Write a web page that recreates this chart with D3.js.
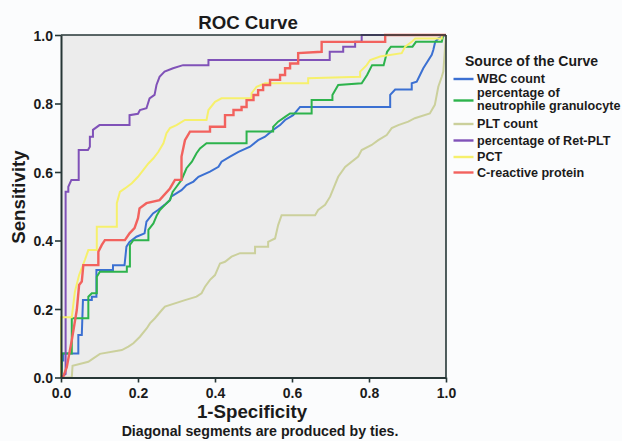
<!DOCTYPE html>
<html>
<head>
<meta charset="utf-8">
<script src="https://cdn.jsdelivr.net/npm/d3@7/dist/d3.min.js"></script>
<style>
  html, body { margin: 0; padding: 0; background: #fbfcfd; }
  svg { display: block; }
  text { font-family: Arial, "Liberation Sans", Helvetica, sans-serif; font-weight: bold; fill: #1b1b1b; }
</style>
</head>
<body>
<svg id="chart" width="622" height="441"></svg>
<script>
// ---- data ----
const seriesNames = ["WBC count", "percentage of\nneutrophile granulocyte", "PLT count", "percentage of Ret-PLT", "PCT", "C-reactive protein"];
const seriesColors = ["#3b70d2", "#2db34c", "#cbd09c", "#8052b8", "#f6f06c", "#f2625e"];
const xTicks = [0.0, 0.2, 0.4, 0.6, 0.8, 1.0];
const yTicks = [0.0, 0.2, 0.4, 0.6, 0.8, 1.0];

const wbc = [[0,0],[0.002,0.05],[0.006,0.05],[0.006,0.07],[0.045,0.07],[0.045,0.124],[0.054,0.124],[0.057,0.226],[0.08,0.226],[0.08,0.236],[0.092,0.236],[0.092,0.314],[0.135,0.314],[0.135,0.328],[0.165,0.328],[0.17,0.382],[0.178,0.396],[0.196,0.411],[0.217,0.421],[0.222,0.455],[0.239,0.479],[0.252,0.489],[0.269,0.504],[0.283,0.518],[0.286,0.528],[0.313,0.547],[0.326,0.562],[0.344,0.572],[0.357,0.586],[0.387,0.601],[0.409,0.615],[0.417,0.63],[0.439,0.645],[0.461,0.659],[0.491,0.674],[0.512,0.693],[0.53,0.703],[0.551,0.723],[0.569,0.737],[0.582,0.752],[0.603,0.766],[0.621,0.79],[0.855,0.79],[0.855,0.825],[0.868,0.841],[0.911,0.841],[0.911,0.859],[0.924,0.864],[0.941,0.903],[0.963,0.942],[0.967,0.956],[0.972,0.98],[0.98,0.99],[1,1]];

const neutro = [[0,0],[0.002,0.02],[0.002,0.07],[0.028,0.07],[0.028,0.173],[0.071,0.173],[0.071,0.236],[0.08,0.246],[0.093,0.246],[0.093,0.294],[0.101,0.309],[0.171,0.309],[0.171,0.324],[0.179,0.324],[0.179,0.387],[0.188,0.401],[0.227,0.401],[0.227,0.431],[0.24,0.45],[0.249,0.474],[0.257,0.489],[0.27,0.504],[0.283,0.518],[0.29,0.542],[0.3,0.557],[0.313,0.577],[0.326,0.611],[0.34,0.63],[0.352,0.655],[0.361,0.669],[0.378,0.684],[0.482,0.684],[0.482,0.718],[0.551,0.718],[0.551,0.732],[0.564,0.747],[0.582,0.761],[0.595,0.771],[0.651,0.771],[0.651,0.81],[0.705,0.81],[0.705,0.825],[0.72,0.854],[0.781,0.859],[0.795,0.883],[0.808,0.912],[0.838,0.912],[0.847,0.951],[0.857,0.966],[0.913,0.966],[0.922,0.98],[0.989,0.98],[0.993,1],[1,1]];

const plt = [[0,0],[0.028,0],[0.03,0.034],[0.071,0.046],[0.084,0.056],[0.101,0.069],[0.158,0.08],[0.175,0.09],[0.188,0.1],[0.205,0.119],[0.223,0.144],[0.231,0.158],[0.244,0.173],[0.262,0.197],[0.27,0.207],[0.322,0.226],[0.352,0.236],[0.365,0.246],[0.374,0.265],[0.387,0.285],[0.4,0.299],[0.413,0.333],[0.426,0.338],[0.443,0.353],[0.465,0.363],[0.504,0.363],[0.504,0.382],[0.538,0.382],[0.538,0.396],[0.556,0.406],[0.564,0.445],[0.573,0.474],[0.66,0.474],[0.668,0.489],[0.686,0.504],[0.699,0.528],[0.72,0.586],[0.738,0.615],[0.772,0.645],[0.781,0.664],[0.807,0.679],[0.824,0.693],[0.846,0.708],[0.859,0.728],[0.876,0.737],[0.902,0.747],[0.919,0.757],[0.958,0.771],[0.971,0.796],[0.98,0.849],[0.989,0.878],[0.993,0.893],[1,1]];

const retPlt = [[0,0],[0.012,0.01],[0.012,0.542],[0.019,0.542],[0.019,0.557],[0.027,0.577],[0.046,0.577],[0.046,0.664],[0.07,0.664],[0.075,0.674],[0.075,0.703],[0.083,0.703],[0.083,0.723],[0.1,0.737],[0.178,0.737],[0.178,0.766],[0.2,0.77],[0.205,0.781],[0.222,0.786],[0.23,0.815],[0.243,0.825],[0.248,0.854],[0.256,0.878],[0.269,0.893],[0.291,0.903],[0.317,0.912],[0.383,0.912],[0.383,0.927],[0.698,0.927],[0.698,0.951],[0.733,0.951],[0.733,0.966],[0.764,0.966],[0.764,0.98],[0.781,0.98],[0.781,1],[1,1]];

const pct = [[0,0],[0,0.176],[0.028,0.176],[0.036,0.25],[0.047,0.299],[0.062,0.343],[0.071,0.372],[0.093,0.372],[0.093,0.44],[0.145,0.44],[0.145,0.509],[0.153,0.542],[0.166,0.552],[0.184,0.567],[0.2,0.586],[0.214,0.606],[0.227,0.625],[0.24,0.64],[0.253,0.659],[0.266,0.684],[0.274,0.713],[0.283,0.728],[0.3,0.737],[0.322,0.752],[0.378,0.752],[0.383,0.781],[0.4,0.805],[0.417,0.815],[0.495,0.815],[0.495,0.83],[0.508,0.849],[0.53,0.859],[0.642,0.859],[0.642,0.874],[0.777,0.878],[0.777,0.893],[0.794,0.912],[0.803,0.927],[0.829,0.937],[0.885,0.947],[0.894,0.966],[0.911,0.98],[0.92,0.99],[0.989,0.99],[0.989,1],[1,1]];

const crp = [[0,0],[0.006,0.003],[0.015,0.03],[0.028,0.109],[0.041,0.197],[0.047,0.27],[0.054,0.28],[0.058,0.328],[0.097,0.328],[0.097,0.367],[0.106,0.387],[0.114,0.401],[0.166,0.401],[0.178,0.421],[0.191,0.436],[0.2,0.465],[0.204,0.494],[0.222,0.509],[0.256,0.518],[0.283,0.552],[0.296,0.577],[0.313,0.577],[0.313,0.645],[0.322,0.693],[0.335,0.718],[0.387,0.718],[0.387,0.732],[0.426,0.732],[0.426,0.766],[0.448,0.766],[0.448,0.781],[0.469,0.781],[0.469,0.79],[0.482,0.79],[0.482,0.81],[0.5,0.81],[0.5,0.825],[0.512,0.825],[0.512,0.839],[0.525,0.839],[0.525,0.854],[0.543,0.854],[0.543,0.869],[0.569,0.869],[0.569,0.883],[0.582,0.883],[0.582,0.903],[0.595,0.903],[0.595,0.917],[0.616,0.917],[0.616,0.947],[0.677,0.951],[0.677,0.98],[0.842,0.98],[0.842,1],[1,1]];

const allSeries = [wbc, neutro, plt, retPlt, pct, crp];

// ---- layout ----
const svg = d3.select("#chart");
const pLeft = 61, pRight = 446, pTop = 35, pBottom = 377.5;
const x = d3.scaleLinear().domain([0, 1]).range([pLeft, pRight]);
const y = d3.scaleLinear().domain([0, 1]).range([pBottom, pTop]);
const axisColor = "#263636";

svg.append("rect").attr("x", 0).attr("y", 0).attr("width", 622).attr("height", 441).attr("fill", "#fbfcfd");
svg.append("rect").attr("x", pLeft).attr("y", pTop).attr("width", pRight - pLeft).attr("height", pBottom - pTop).attr("fill", "#ececec");

// curves
const line = d3.line().x(d => x(d[0])).y(d => y(d[1]));
const plotG = svg.append("g");
allSeries.forEach((s, i) => {
  plotG.append("path").datum(s).attr("d", line)
    .attr("fill", "none").attr("stroke", seriesColors[i])
    .attr("stroke-width", i === 5 ? 2.4 : 2)
    .attr("stroke-linejoin", "miter");
});

// frame
svg.append("line").attr("x1", pLeft).attr("x2", pRight).attr("y1", pTop).attr("y2", pTop).attr("stroke", axisColor).attr("stroke-width", 1.6);
svg.append("line").attr("x1", pRight).attr("x2", pRight).attr("y1", pTop).attr("y2", pBottom).attr("stroke", axisColor).attr("stroke-width", 1.6);

// axes
const xAxis = d3.axisBottom(x).tickValues(xTicks).tickFormat(d3.format(".1f")).tickSize(5).tickSizeOuter(0);
const yAxis = d3.axisLeft(y).tickValues(yTicks).tickFormat(d3.format(".1f")).tickSize(6).tickSizeOuter(0);
const gx = svg.append("g").attr("transform", `translate(0,${pBottom})`).call(xAxis);
const gy = svg.append("g").attr("transform", `translate(${pLeft},0)`).call(yAxis);
[gx, gy].forEach(g => {
  g.select(".domain").attr("stroke", axisColor).attr("stroke-width", 2);
  g.selectAll(".tick line").attr("stroke", axisColor).attr("stroke-width", 1.6);
  g.selectAll(".tick text").attr("font-size", 14).attr("font-weight", "bold")
    .attr("font-family", "Arial, 'Liberation Sans', sans-serif").attr("fill", "#1b1b1b");
});
gx.selectAll(".tick text").attr("dy", null).attr("y", 20.5);
gy.selectAll(".tick text").attr("x", -8).attr("dy", "0.36em");

// titles
svg.append("text").attr("x", 248).attr("y", 29).attr("text-anchor", "middle").attr("font-size", 18.7).text("ROC Curve");
svg.append("text").attr("x", 252).attr("y", 417.5).attr("text-anchor", "middle").attr("font-size", 18.7).text("1-Specificity");
svg.append("text").attr("transform", "translate(25,197) rotate(-90)").attr("text-anchor", "middle").attr("font-size", 18.7).text("Sensitivity");
svg.append("text").attr("x", 260).attr("y", 436).attr("text-anchor", "middle").attr("font-size", 14.2).text("Diagonal segments are produced by ties.");

// legend
const lg = svg.append("g");
lg.append("text").attr("x", 465).attr("y", 65.5).attr("font-size", 14).text("Source of the Curve");
const legendY = [79, 100.5, 124, 140.5, 157, 172.5];
seriesNames.forEach((name, i) => {
  const yy = legendY[i];
  lg.append("line").attr("x1", 453.5).attr("x2", 473.5).attr("y1", yy).attr("y2", yy)
    .attr("stroke", seriesColors[i]).attr("stroke-width", 2.4);
  const lines = name.split("\n");
  const t = lg.append("text").attr("x", 477).attr("font-size", 12.6);
  if (lines.length === 1) {
    t.attr("y", yy + 4).text(name);
  } else {
    t.attr("y", yy - 3.5);
    t.append("tspan").attr("x", 477).text(lines[0]);
    t.append("tspan").attr("x", 477).attr("dy", 12.8).text(lines[1]);
  }
});
</script>
</body>
</html>
